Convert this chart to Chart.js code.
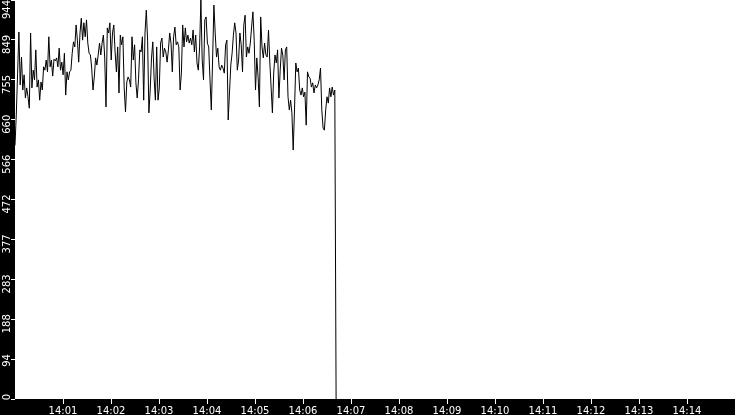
<!DOCTYPE html>
<html>
<head>
<meta charset="utf-8">
<script src="https://cdn.jsdelivr.net/npm/chart.js@4.4.1/dist/chart.umd.min.js"></script>
<style>
    html, body { margin: 0; padding: 0; background: #fff; overflow: hidden; }
    canvas { display: block; }
</style>
</head>
<body>
<canvas id="loadChart" width="735" height="415"></canvas>
<script>
// samples start at 14:00:00, one every SAMPLE_SECONDS
var SAMPLE_SECONDS = 1.625;
var X_MAX_SECONDS = 900;   // 14:00 -> 14:15
var Y_MAX = 944;

var TIME_LABELS = ['14:01', '14:02', '14:03', '14:04', '14:05', '14:06', '14:07',
                   '14:08', '14:09', '14:10', '14:11', '14:12', '14:13', '14:14'];
var Y_TICK_LABELS = ['0', '94', '188', '283', '377', '472', '566', '660', '755', '849', '944'];

var LOAD = [
    600,
    674, 771, 868, 743, 809, 731, 767, 712, 736, 715,
    688, 866, 736, 778, 755, 826, 738, 755, 707, 750,
    731, 786, 778, 802, 774, 857, 786, 802, 764, 804,
    800, 807, 786, 830, 778, 797, 767, 818, 719, 774,
    755, 774, 778, 818, 845, 833, 885, 849, 797, 866,
    901, 849, 890, 857, 897, 842, 818, 814, 783, 731,
    762, 807, 790, 814, 842, 814, 842, 861, 809, 691,
    878, 866, 890, 802, 866, 885, 821, 774, 833, 724,
    861, 838, 857, 736, 679, 750, 762, 755, 738, 857,
    802, 838, 748, 712, 755, 826, 821, 857, 707, 866,
    920, 849, 677, 731, 807, 845, 759, 707, 833, 707,
    736, 842, 854, 809, 830, 821, 797, 826, 866, 842,
    774, 857, 880, 838, 845, 833, 731, 771, 885, 833,
    878, 845, 861, 842, 854, 838, 873, 821, 861, 795,
    778, 833,
    944, 802, 755, 897, 904, 842, 833, 755, 684, 802,
    932, 866, 809, 830, 786, 778, 790, 783, 771, 838,
    849, 660, 726, 790, 818, 861, 890, 866, 778, 802,
    866, 838, 774, 885, 908, 809, 833, 818, 842, 880,
    916, 849, 731, 807, 762, 691, 904, 833, 807, 842,
    814, 809, 873, 797, 738, 677, 771, 814, 795, 826,
    712, 778, 830, 814, 755, 826, 833, 715, 684, 707,
    677, 589, 684, 795, 774, 783, 731, 719, 736, 715,
    726, 648, 774, 762, 759, 738, 748, 724, 743, 736,
    743, 755, 783, 684, 641, 636, 684, 715, 700, 736,
    715, 738, 719, 731,
    0
];

var points = LOAD.map(function (v, i) {
    return { x: i * SAMPLE_SECONDS, y: v };
});

// black strips behind the axes
var axisBands = {
    id: 'axisBands',
    beforeDraw: function (chart) {
        var c = chart.ctx, a = chart.chartArea;
        c.save();
        c.fillStyle = '#000';
        c.fillRect(0, 0, a.left, chart.height);
        c.fillRect(0, a.bottom, chart.width, chart.height - a.bottom);
        c.restore();
    },
    afterDraw: function (chart) {
        // rotated y labels, placed from the y scale
        var c = chart.ctx, y = chart.scales.y;
        c.save();
        c.fillStyle = '#fff';
        c.font = '10px "DejaVu Sans"';
        c.textAlign = 'right';
        c.textBaseline = 'alphabetic';
        y.ticks.forEach(function (t, i) {
            var py = Math.max(y.getPixelForValue(t.value) - 5, 0);
            c.save();
            c.translate(9.5, py);
            c.rotate(-Math.PI / 2);
            c.fillText(Y_TICK_LABELS[i], 0, 0);
            c.restore();
        });
        c.restore();
    }
};

var ctx = document.getElementById('loadChart').getContext('2d');
var chart = new Chart(ctx, {
    type: 'line',
    data: {
        datasets: [{
            data: points,
            borderColor: '#000',
            borderWidth: 1,
            pointRadius: 0,
            tension: 0,
            fill: false
        }]
    },
    options: {
        responsive: false,
        animation: false,
        layout: { padding: 0 },
        plugins: {
            legend: { display: false },
            tooltip: { enabled: false }
        },
        scales: {
            x: {
                type: 'linear',
                min: 0,
                max: X_MAX_SECONDS,
                afterBuildTicks: function (s) {
                    s.ticks = TIME_LABELS.map(function (l, i) { return { value: (i + 1) * 60 }; });
                },
                afterFit: function (s) {
                    s.height = 16;
                    s.paddingLeft = 0;
                    s.paddingRight = 0;
                },
                grid: { drawOnChartArea: false, tickLength: 5, tickColor: '#fff', tickWidth: 1 },
                border: { display: false },
                ticks: {
                    color: '#fff',
                    font: { family: 'DejaVu Sans', size: 10 },
                    padding: 1,
                    maxRotation: 0,
                    autoSkip: false,
                    callback: function (v, i) { return TIME_LABELS[i]; }
                }
            },
            y: {
                type: 'linear',
                min: 0,
                max: Y_MAX,
                afterBuildTicks: function (s) {
                    s.ticks = Y_TICK_LABELS.map(function (l, i) { return { value: i * Y_MAX / 10 }; });
                },
                afterFit: function (s) {
                    s.width = 15;
                    s.paddingTop = 0;
                    s.paddingBottom = 0;
                },
                grid: { drawOnChartArea: false, tickLength: 4, tickColor: '#fff', tickWidth: 1 },
                border: { display: false },
                ticks: { display: false }
            }
        }
    },
    plugins: [axisBands]
});
</script>
</body>
</html>
